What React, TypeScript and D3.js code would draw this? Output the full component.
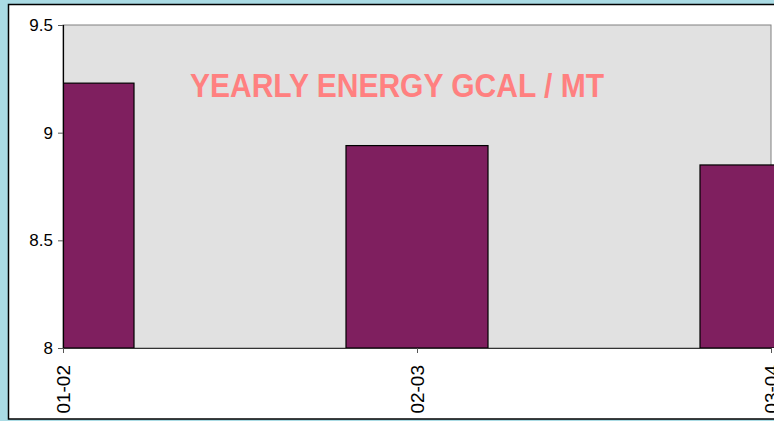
import * as d3 from "d3";
import { useEffect, useRef } from "react";

// Данные графика
const years = ["01-02", "02-03", "03-04"];
const energy = [9.23, 8.94, 8.85];
const yTicks = [8, 8.5, 9, 9.5];
const title = "YEARLY ENERGY GCAL / MT";

const App = () => {
  const ref = useRef<SVGSVGElement>(null);

  useEffect(() => {
    const svg = d3.select(ref.current);
    svg.selectAll("*").remove();

    const width = 774;
    const height = 421;
    const plot = { left: 63, top: 25, right: 771, bottom: 348 };

    // фон
    svg.append("rect")
      .attr("width", width)
      .attr("height", height)
      .attr("fill", "#aadbe4");

    // белая панель
    svg.append("rect")
      .attr("x", 8.5)
      .attr("y", 4.5)
      .attr("width", 800)
      .attr("height", 414.5)
      .attr("fill", "#ffffff")
      .attr("stroke", "#000")
      .attr("stroke-width", 1.5);

    const x = d3.scalePoint()
      .domain(years)
      .range([plot.left, plot.right]);

    const y = d3.scaleLinear()
      .domain([8, 9.5])
      .range([plot.bottom, plot.top]);

    // область графика
    svg.append("rect")
      .attr("x", plot.left)
      .attr("y", plot.top)
      .attr("width", plot.right - plot.left)
      .attr("height", plot.bottom - plot.top)
      .attr("fill", "#e1e1e1")
      .attr("stroke", "#808080")
      .attr("stroke-width", 1);

    svg.append("defs")
      .append("clipPath")
      .attr("id", "clip")
      .append("rect")
      .attr("x", plot.left)
      .attr("y", 0)
      .attr("width", width - plot.left)
      .attr("height", plot.bottom);

    const barWidth = 142;
    svg.append("g")
      .attr("clip-path", "url(#clip)")
      .selectAll("rect")
      .data(years)
      .enter()
      .append("rect")
      .attr("x", (d) => (x(d) as number) - barWidth / 2)
      .attr("y", (d, i) => y(energy[i]))
      .attr("width", barWidth)
      .attr("height", (d, i) => y(8) - y(energy[i]))
      .attr("fill", "#7f1f5f")
      .attr("stroke", "#000")
      .attr("stroke-width", 1.2);

    // заголовок
    svg.append("text")
      .attr("x", 190)
      .attr("y", 97)
      .attr("font-family", "Liberation Sans, Arial, sans-serif")
      .attr("font-weight", "bold")
      .attr("font-size", 34)
      .attr("textLength", 414)
      .attr("lengthAdjust", "spacingAndGlyphs")
      .attr("fill", "#ff8080")
      .text(title);

    // Ось Y
    const yAxis = svg.append("g")
      .attr("transform", `translate(${plot.left},0)`)
      .call(d3.axisLeft(y).tickValues(yTicks).tickSize(5).tickFormat(d3.format("")));
    yAxis.select(".domain").attr("stroke", "#000").attr("stroke-width", 1.2);
    yAxis.selectAll(".tick line").attr("stroke", "#555");
    yAxis.selectAll("text")
      .attr("font-family", "Liberation Sans, Arial, sans-serif")
      .attr("font-size", 17)
      .attr("fill", "#000")
      .attr("x", -10);

    // Ось X
    const xAxis = svg.append("g")
      .attr("transform", `translate(0,${plot.bottom})`)
      .call(d3.axisBottom(x).tickSize(5).tickSizeOuter(0));
    xAxis.select(".domain").attr("stroke", "#333").attr("stroke-width", 1.2);
    xAxis.selectAll(".tick line").attr("stroke", "#555");
    xAxis.selectAll("text")
      .attr("font-family", "Liberation Sans, Arial, sans-serif")
      .attr("font-size", 19)
      .attr("fill", "#000")
      .attr("transform", "rotate(-90)")
      .attr("text-anchor", "end")
      .attr("x", -17)
      .attr("y", 0)
      .attr("dy", "0.35em");
  }, []);

  return (
    <svg
      ref={ref}
      width={774}
      height={421}
      style={{ position: "absolute", left: 0, top: 0, display: "block" }}
    />
  );
};

export default App;
